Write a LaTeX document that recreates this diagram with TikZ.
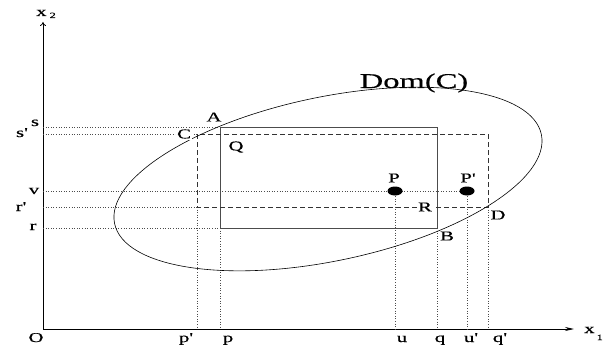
\documentclass[tikz,border=0pt]{standalone}
\usepackage{fontspec}
\usepackage{graphicx}
\newfontfamily\lblfont{Liberation Serif}[FakeStretch=1.55,FakeBold=0.4]
\usetikzlibrary{arrows.meta,positioning,calc}

\begin{document}
\begin{tikzpicture}[x=1pt,y=1pt,
	lbl/.style={font=\fontsize{13.5}{15}\lblfont, inner sep=1pt},
	guide/.style={dotted, line width=0.6pt, black!70},
	solidbox/.style={draw=black!70, line width=0.8pt},
	dashbox/.style={draw=black!80, dash pattern=on 5pt off 3pt, line width=0.7pt},
	axis/.style={line width=0.8pt}]

		\useasboundingbox (0,0) rectangle (607,354);

		% axes
		\coordinate (O) at (43,25);
		\draw[axis,-{Stealth[length=9pt,width=4pt]}] (O) -- (574,25) coordinate (xend);
		\draw[axis,-{To[length=4pt,width=6pt]}] (O) -- (43,332) coordinate (yend);

		% corners and points
		\coordinate (A) at (220,227);
		\coordinate (B) at (437,126);
		\coordinate (C) at (197,220);
		\coordinate (D) at (488,147);
		\coordinate (P) at (395,163);
		\coordinate (Pp) at (467,163);
		\coordinate (E) at (328,175);

		% projections
		\draw[guide] (O |- A) -- (A);
		\draw[guide] (O |- C) -- (C);
		\draw[guide] (O |- Pp) -- (Pp);
		\draw[guide] (O |- D) -- (C |- D);
		\draw[guide] (O |- B) -- (A |- B);
		\draw[guide] (C |- D) -- (C |- O);
		\draw[guide] (A |- B) -- (A |- O);
		\draw[guide] (P) -- (P |- O);
		\draw[guide] (B) -- (B |- O);
		\draw[guide] (Pp) -- (Pp |- O);
		\draw[guide] (D) -- (D |- O);

		\draw[solidbox] (A) rectangle (B);
		\draw[dashbox] (C) rectangle (D);
		\draw[line width=0.6pt, rotate around={11.8:(E)}] (E) ellipse [x radius=218, y radius=82];

		\fill (P) ellipse [x radius=7.5, y radius=4.5];
		\fill (Pp) ellipse [x radius=7.5, y radius=4.5];

		% point labels
		\node[lbl] (lA) at (214,237) {A};
		\node[lbl,fill=white] (lC) at (184,220) {C};
		\node[lbl] (lQ) at (236,207) {Q};
		\node[lbl] (lP) at (394,176) {P};
		\node[lbl] (lPp) at (468,176) {P'};
		\node[lbl,fill=white] (lR) at (425,147) {R};
		\node[lbl] (lB) at (447,118) {B};
		\node[lbl] (lD) at (498,139) {D};
		\node[lbl,font=\fontsize{21}{24}\lblfont,anchor=base] (dom) at (414,266) {Dom(C)};

		% axis labels
		\node[lbl,anchor=base west] (lx2) at (35,338) {x\kern3pt\raisebox{-2pt}{\footnotesize 2}};
		\node[lbl,anchor=base west] (lx1) at (583,21) {x\kern2pt\raisebox{-7pt}{\footnotesize 1}};
		\node[lbl,anchor=base] (ls) at (35,228) {s};
		\node[lbl,anchor=base] (lsp) at (22,217) {s'};
		\node[lbl,anchor=base] (lv) at (34,160) {v};
		\node[lbl,anchor=base] (lrp) at (21,143) {r'};
		\node[lbl,anchor=base] (lr) at (33,124) {r};
		\node[lbl,anchor=base] (lO) at (36,12) {O};
		\node[lbl,anchor=base] (lpp) at (186,12) {p'};
		\node[lbl,anchor=base] (lp) at (228,12) {p};
		\node[lbl,anchor=base] (lu) at (402,12) {u};
		\node[lbl,anchor=base] (lq) at (440,12) {q};
		\node[lbl,anchor=base] (lup) at (471,12) {u'};
		\node[lbl,anchor=base] (lqp) at (500,12) {q'};
\end{tikzpicture}
\end{document}
